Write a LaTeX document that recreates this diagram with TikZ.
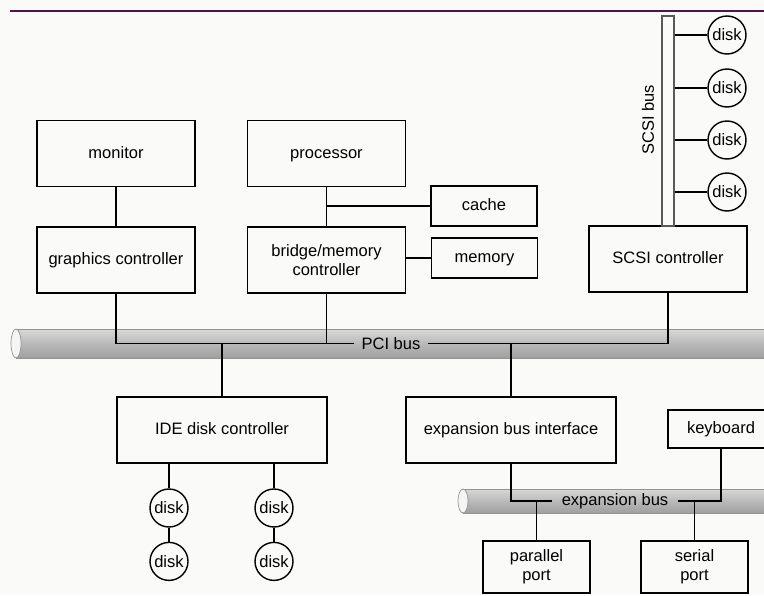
\documentclass[tikz,border=0pt]{standalone}
\usepackage{fontspec}
\setmainfont{Liberation Sans}
\usetikzlibrary{positioning,calc}
\definecolor{rulecol}{RGB}{80,20,70}
\definecolor{paper}{RGB}{250,251,248}

\begin{document}
\begin{tikzpicture}[
    x=0.02cm,y=-0.02cm,font=\fontsize{9.4}{11}\selectfont,
    box/.style={rectangle,draw,line width=0.8pt,inner sep=0pt,align=center},
    oneline/.style={text height=6.8pt,text depth=1.2pt},
    big/.style={box,minimum width=3.16cm,minimum height=1.32cm},
    wide/.style={box,oneline,minimum width=4.2cm,minimum height=1.32cm},
    small/.style={box,oneline,minimum width=2.12cm,minimum height=0.8cm},
    port/.style={box,minimum width=2.14cm,minimum height=1.04cm},
    disk/.style={circle,draw,line width=0.8pt,minimum size=0.76cm,inner sep=0pt},
    wire/.style={line width=0.8pt},
    busbar/.style={draw=gray!85,top color=gray!30,bottom color=gray!75,middle color=gray!55}]
    \clip (0,0) rectangle (764,595);
    \fill[paper] (0,0) rectangle (764,595);
    \draw[rulecol,line width=1pt] (10,11) -- (764,11);

    \path[busbar] (16,329) rectangle (790,358);
    \draw[gray!85,fill=gray!8] (16,343.5) ellipse (5 and 14.5);
    \path[busbar] (463,489) rectangle (790,513);
    \draw[gray!85,fill=gray!8] (463,501) ellipse (5 and 12);

    \node[big,oneline] (mon) at (116,153.5) {monitor};
    \node[big,oneline] (gc) [below=0.78cm of mon] {graphics controller};
    \node[big,oneline] (proc) at (326.5,153.5) {processor};
    \node[big] (bmc) [below=0.78cm of proc] {bridge/memory\\controller};
    \node[small] (cache) at (484,206) {cache};
    \node[small] (mem) at (484.5,258) {memory};
    \node[big,oneline] (scsi) at (668,259) {SCSI controller};
    \node[wide] (ide) at (222,430) {IDE disk controller};
    \node[wide] (ebi) at (511,430) {expansion bus interface};
    \node[small,minimum height=0.76cm] (kbd) at (721,429) {keyboard};
    \node[port] (par) at (536.5,567) {parallel\\port};
    \node[port] (ser) at (694.5,567) {serial\\port};

    \node[draw=gray!70!black,fill=paper,line width=0.8pt,minimum width=0.24cm,minimum height=4.2cm,inner sep=0pt] (sbus) at (668,121) {};
    \node[rotate=90] (sbuslbl) at (648,120) {SCSI bus};
    \node[disk] (s1) at (727,35) {disk};
    \node[disk] (s2) at (727,88) {disk};
    \node[disk] (s3) at (727,140) {disk};
    \node[disk] (s4) at (727,192) {disk};

    \node[disk] (i1) at (169,508) {disk};
    \node[disk] (i2) [below=0.28cm of i1] {disk};
    \node[disk] (i3) at (274,508) {disk};
    \node[disk] (i4) [below=0.28cm of i3] {disk};

    \node[inner sep=4pt] (pcilbl) at (391,343.5) {PCI bus};
    \node[inner sep=5.5pt] (explbl) at (615,501) {expansion bus};

    \draw[wire] (mon) -- (gc);
    \draw[wire] (proc) -- (bmc);
    \draw[wire] (proc.south |- cache) -- (cache);
    \draw[wire] (bmc.east |- mem) -- (mem);
    \draw[wire] (gc.south) |- (pcilbl.west);
    \draw[wire] (bmc.south) -- (bmc.south |- pcilbl.west);
    \draw[wire] (scsi.south) |- (pcilbl.east);
    \draw[wire] (ide.north) -- (ide.north |- pcilbl.west);
    \draw[wire] (ebi.north) -- (ebi.north |- pcilbl.east);
    \draw[wire] (sbus.east |- s1) -- (s1);
    \draw[wire] (sbus.east |- s2) -- (s2);
    \draw[wire] (sbus.east |- s3) -- (s3);
    \draw[wire] (sbus.east |- s4) -- (s4);
    \draw[wire] (ide.south -| i1) -- (i1);
    \draw[wire] (i1) -- (i2);
    \draw[wire] (ide.south -| i3) -- (i3);
    \draw[wire] (i3) -- (i4);
    \draw[wire] (ebi.south) |- (explbl.west);
    \draw[wire] (kbd.south) |- (explbl.east);
    \draw[wire] (par) -- (par |- explbl);
    \draw[wire] (ser) -- (ser |- explbl);
\end{tikzpicture}
\end{document}
